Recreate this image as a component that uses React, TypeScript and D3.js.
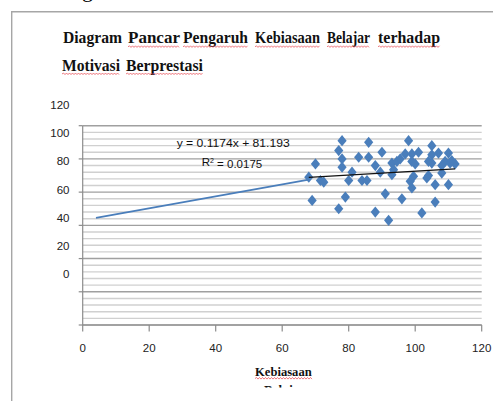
import React, { useEffect, useRef } from 'react';
import * as d3 from 'd3';

// Kebiasaan (x) vs Motivasi (y)
const kebiasaan = [68, 70, 71.5, 72.5, 69, 78, 77, 78, 78, 81, 80, 79, 77, 83, 84, 85.5, 86, 86, 90, 88,
  89.5, 93, 94.5, 93.5, 93, 98, 97, 99, 101, 99, 99.5, 99, 103.5, 91, 96, 88, 92, 102, 104, 105,
  105, 107, 110, 105, 109, 110.5, 112, 108, 104, 106, 110, 106, 95.5, 98.5, 100, 111, 108];
const motivasi = [69, 77, 67, 66, 55, 91, 85, 80, 75, 72, 67, 57, 50, 81, 67, 67, 90, 81, 84, 76,
  72, 77.5, 78.5, 73.5, 70.5, 91, 83, 83, 84, 78.5, 69.5, 62.5, 68.5, 59, 56, 48, 43, 47.5, 78.5, 88,
  82.5, 83.5, 83.5, 77.5, 78.5, 77.5, 77, 71.5, 70, 64.5, 64.5, 54, 80, 66.5, 77, 79, 76];

const xTicks = [0, 20, 40, 60, 80, 100, 120];
const yTickLabels = [120, 100, 80, 60, 40, 20, 0];
const yGridDomain = [-20, 100];

const trendSlope = 0.1174;
const trendStart = 60.9; // where the black line sits at x = 0 in the picture
const trendRange = [68, 112];
const fitLineX = [4, 68];
const fitLineY = [44.5, 67.5];

const equationText = 'y = 0.1174x + 81.193';
const r2Value = '0.0175';

const titleLine1 = ['Diagram', 'Pancar', 'Pengaruh', 'Kebiasaan', 'Belajar', 'terhadap'];
const titleLine2 = ['Motivasi', 'Berprestasi'];
const xAxisTitle = 'Kebiasaan';

const W = 493;
const H = 401;

// word boxes [left, right] of the justified title
const line1Pos = [[63, 122], [128, 180], [183, 248], [255, 320], [327, 370], [378, 440]];
const line2Pos = [[62, 120], [126, 203]];

export default function App() {
  const ref = useRef<SVGSVGElement>(null);

  useEffect(() => {
    const svg = d3.select(ref.current);
    svg.selectAll('*').remove();

    const x = d3.scaleLinear().domain([0, 120]).range([82.7, 481.7]);
    const y = d3.scaleLinear().domain(yGridDomain).range([325, 125.7]);
    const yLab = d3.scaleLinear().domain([0, 120]).range([274.3, 105]);

    svg.append('rect').attr('width', W).attr('height', H).attr('fill', '#fff');

    // bits of the text line above the frame
    svg.append('text').attr('x', -6).attr('y', -3).attr('font-family', 'Liberation Serif')
      .attr('font-size', 22).text('y');
    svg.append('text').attr('x', 82).attr('y', -3).attr('font-family', 'Liberation Serif')
      .attr('font-size', 22).text('g');

    // frame
    svg.append('path').attr('d', `M11.7,${H} V11.7 H${W}`).attr('fill', 'none')
      .attr('stroke', '#a6a6a6').attr('stroke-width', 1.4);

    const wavy = (x0: number, x1: number, yy: number) => {
      let d = `M${x0},${yy}`;
      let up = true;
      for (let px = x0 + 1.5; px <= x1; px += 1.5) {
        d += ` L${px},${yy + (up ? -1 : 0.6)}`;
        up = !up;
      }
      svg.append('path').attr('d', d).attr('fill', 'none').attr('stroke', '#e8505a')
        .attr('stroke-width', 0.9).attr('opacity', 0.85);
    };

    const drawWords = (words: string[], pos: number[][], base: number, skipFirst: boolean) => {
      words.forEach((w, i) => {
        svg.append('text').attr('x', pos[i][0]).attr('y', base)
          .attr('font-family', 'Liberation Serif').attr('font-weight', 'bold').attr('font-size', 17)
          .attr('textLength', pos[i][1] - pos[i][0]).attr('lengthAdjust', 'spacingAndGlyphs')
          .attr('fill', '#111').text(w);
        if (!(skipFirst && i === 0)) wavy(pos[i][0], pos[i][1], base + 3.5);
      });
    };
    drawWords(titleLine1, line1Pos, 43.3, true);
    drawWords(titleLine2, line2Pos, 70.5, false);

    // gridlines
    const minor = d3.range(yGridDomain[0], yGridDomain[1] + 0.1, 4).filter(v => v % 20 !== 0);
    const major = d3.range(yGridDomain[0], yGridDomain[1] + 0.1, 20);
    svg.append('g').selectAll('line').data(minor).enter().append('line')
      .attr('x1', x(0)).attr('x2', x(120)).attr('y1', d => y(d)).attr('y2', d => y(d))
      .attr('stroke', '#d0d0d0').attr('stroke-width', 1.4);
    svg.append('g').selectAll('line').data(major).enter().append('line')
      .attr('x1', x(0)).attr('x2', x(120)).attr('y1', d => y(d)).attr('y2', d => y(d))
      .attr('stroke', '#a0a0a0').attr('stroke-width', 1.4);

    // axes
    svg.append('line').attr('x1', x(0)).attr('x2', x(0)).attr('y1', y(100)).attr('y2', y(-20))
      .attr('stroke', '#8c8c8c').attr('stroke-width', 1.2);
    svg.append('g').selectAll('line').data(major).enter().append('line')
      .attr('x1', x(0) - 4).attr('x2', x(0)).attr('y1', d => y(d)).attr('y2', d => y(d))
      .attr('stroke', '#8c8c8c').attr('stroke-width', 1.2);
    svg.append('line').attr('x1', x(0)).attr('x2', x(120)).attr('y1', y(-20)).attr('y2', y(-20))
      .attr('stroke', '#8c8c8c').attr('stroke-width', 1.2);
    svg.append('g').selectAll('line').data(xTicks).enter().append('line')
      .attr('x1', d => x(d)).attr('x2', d => x(d)).attr('y1', y(-20)).attr('y2', y(-20) + 6.5)
      .attr('stroke', '#8c8c8c').attr('stroke-width', 1.2);

    svg.append('g').selectAll('text').data(yTickLabels).enter().append('text')
      .attr('x', 69.5).attr('y', d => yLab(d)).attr('dy', '0.35em').attr('text-anchor', 'end')
      .attr('font-family', 'Liberation Sans').attr('font-size', 11.5).attr('fill', '#222')
      .text(d => d);
    svg.append('g').selectAll('text').data(xTicks).enter().append('text')
      .attr('x', d => x(d)).attr('y', 348.3).attr('dy', '0.35em').attr('text-anchor', 'middle')
      .attr('font-family', 'Liberation Sans').attr('font-size', 11.5).attr('fill', '#222')
      .text(d => d);

    // fitted lines
    svg.append('line').attr('x1', x(fitLineX[0])).attr('x2', x(fitLineX[1]))
      .attr('y1', y(fitLineY[0])).attr('y2', y(fitLineY[1]))
      .attr('stroke', '#4a7ebb').attr('stroke-width', 1.8);

    // points
    const pts = kebiasaan.map((k, i) => ({ k, m: motivasi[i] }));
    svg.append('g').selectAll('path').data(pts).enter().append('path')
      .attr('d', d => {
        const cx = x(d.k), cy = y(d.m);
        return `M${cx},${cy - 5.6} L${cx + 4.6},${cy} L${cx},${cy + 5.6} L${cx - 4.6},${cy} Z`;
      })
      .attr('fill', '#4a7ebb');

    svg.append('line').attr('x1', x(trendRange[0])).attr('x2', x(trendRange[1]))
      .attr('y1', y(trendStart + trendSlope * trendRange[0]))
      .attr('y2', y(trendStart + trendSlope * trendRange[1]))
      .attr('stroke', '#111').attr('stroke-width', 1.2);

    // equation label
    svg.append('text').attr('x', 176.7).attr('y', 142.7).attr('dy', '0.35em')
      .attr('font-family', 'Liberation Sans').attr('font-size', 11.5)
      .attr('textLength', 113).attr('lengthAdjust', 'spacingAndGlyphs').attr('fill', '#111')
      .text(equationText);
    const r2 = svg.append('text').attr('x', 201.7).attr('y', 161.7).attr('dy', '0.35em')
      .attr('font-family', 'Liberation Sans').attr('font-size', 11.5).attr('fill', '#111');
    r2.append('tspan').text('R');
    r2.append('tspan').attr('dy', '-0.4em').attr('font-size', 7).text('2');
    r2.append('tspan').attr('dy', '0.4em').text(` = ${r2Value}`);

    // x axis title, with the clipped second line under it
    svg.append('text').attr('x', 255).attr('y', 375.7).attr('font-family', 'Liberation Serif')
      .attr('font-weight', 'bold').attr('font-size', 13).attr('textLength', 56.7)
      .attr('lengthAdjust', 'spacingAndGlyphs').attr('fill', '#111').text(xAxisTitle);
    wavy(255, 312, 378.5);
    svg.append('clipPath').attr('id', 'cut').append('rect')
      .attr('x', 0).attr('y', 0).attr('width', W).attr('height', 387.5);
    svg.append('text').attr('x', 264).attr('y', 393.5).attr('font-family', 'Liberation Serif')
      .attr('font-weight', 'bold').attr('font-size', 13).attr('fill', '#111')
      .attr('clip-path', 'url(#cut)').text('Belajar');
  }, []);

  return (
    <svg ref={ref} width={W} height={H}
      style={{ position: 'absolute', left: 0, top: 0, display: 'block' }} />
  );
}
